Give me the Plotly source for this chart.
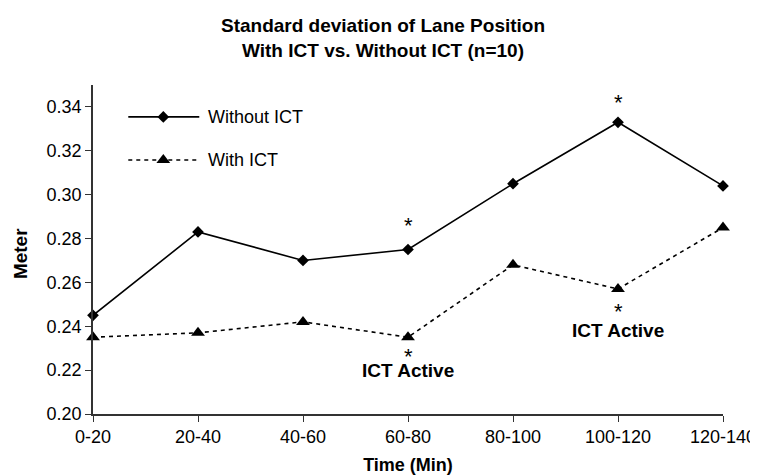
import plotly.graph_objects as go

categories = ["0-20", "20-40", "40-60", "60-80", "80-100", "100-120", "120-140"]
without_ict = [0.245, 0.283, 0.270, 0.275, 0.305, 0.333, 0.304]
with_ict = [0.235, 0.237, 0.242, 0.235, 0.268, 0.257, 0.285]
y_ticks = [0.20, 0.22, 0.24, 0.26, 0.28, 0.30, 0.32, 0.34]
series_names = ["Without ICT", "With ICT"]
star_above_idx = [3, 5]
active_idx = [3, 5]

FONT = "Liberation Sans, Arial, sans-serif"
xs = list(range(len(categories)))
DASH = "4px,4px"

fig = go.Figure()
fig.add_trace(go.Scatter(
    x=xs, y=without_ict, name=series_names[0], mode="lines+markers",
    line=dict(color="black", width=1.6), cliponaxis=False, showlegend=False,
    marker=dict(symbol="diamond", size=9, color="black"),
))
fig.add_trace(go.Scatter(
    x=xs, y=with_ict, name=series_names[1], mode="lines+markers",
    line=dict(color="black", width=1.6, dash=DASH), cliponaxis=False, showlegend=False,
    marker=dict(symbol="triangle-up", size=12, color="black"),
))

# custom legend keys (long line with marker in the middle), on an overlay 0..1 axis
legend_rows = [(0.903, "diamond", 9, "solid"), (0.772, "triangle-up", 12, DASH)]
ann = []
for (ly, sym, sz, dash), nm in zip(legend_rows, series_names):
    fig.add_trace(go.Scatter(
        x=[0.056, 0.1687], y=[ly, ly], xaxis="x2", yaxis="y2",
        mode="lines", showlegend=False, hoverinfo="skip", cliponaxis=False,
        line=dict(color="black", width=1.6, dash=dash),
    ))
    fig.add_trace(go.Scatter(
        x=[0.1116], y=[ly], xaxis="x2", yaxis="y2",
        mode="markers", showlegend=False, hoverinfo="skip", cliponaxis=False,
        marker=dict(symbol=sym, size=sz, color="black"),
    ))
    ann.append(dict(x=0.1798, y=ly, xref="x2", yref="y2", text=nm, showarrow=False,
                    xanchor="left", yanchor="middle",
                    font=dict(size=18, family=FONT, color="black")))

above_shift = {3: 24, 5: 20}
star_below_shift = {3: -19, 5: -23}
text_below_shift = {3: -33, 5: -42}
for i in star_above_idx:
    ann.append(dict(x=xs[i], y=without_ict[i], text="*", showarrow=False,
                    yshift=above_shift[i], font=dict(size=22, family=FONT, color="black")))
for i in active_idx:
    ann.append(dict(x=xs[i], y=with_ict[i], text="*", showarrow=False,
                    yshift=star_below_shift[i], font=dict(size=22, family=FONT, color="black")))
    ann.append(dict(x=xs[i], y=with_ict[i], text="<b>ICT Active</b>", showarrow=False,
                    yshift=text_below_shift[i], font=dict(size=19, family=FONT, color="black")))

# y-axis title as a rotated annotation so it does not push the margin
ann.append(dict(x=-0.1159, y=0.489, xref="paper", yref="paper", text="<b>Meter</b>",
                textangle=-90, showarrow=False, xanchor="center", yanchor="middle",
                font=dict(size=19, family=FONT, color="black")))

fig.update_layout(
    width=750, height=468,
    margin=dict(l=85, r=35, t=77, b=62, autoexpand=False),
    paper_bgcolor="white", plot_bgcolor="white",
    font=dict(family=FONT, color="black"),
    title=dict(text="<b>Standard deviation of Lane Position<br>With ICT vs. Without ICT (n=10)</b>",
               x=0.5, xref="container", xanchor="center",
               y=1 - 24 / 468, yref="container", yanchor="middle",
               font=dict(size=19, family=FONT)),
    showlegend=False,
    annotations=ann,
    xaxis2=dict(overlaying="x", range=[0, 1], visible=False),
    yaxis2=dict(overlaying="y", range=[0, 1], visible=False),
    xaxis=dict(
        range=[0, 6], tickmode="array", tickvals=xs, ticktext=categories,
        showline=True, linecolor="#333", linewidth=1.5, ticks="outside", ticklen=6,
        tickcolor="#333", showgrid=False, zeroline=False,
        tickfont=dict(size=18, family=FONT),
        title=dict(text="<b>Time (Min)</b>", font=dict(size=18, family=FONT), standoff=12),
    ),
    yaxis=dict(
        range=[0.20, 0.35], tickmode="array", tickvals=y_ticks,
        ticktext=[f"{v:.2f}" for v in y_ticks],
        showline=True, linecolor="#333", linewidth=1.5, ticks="outside", ticklen=6,
        tickcolor="#333", showgrid=False, zeroline=False,
        tickfont=dict(size=18, family=FONT),
    ),
)
fig.write_html("out.html")
